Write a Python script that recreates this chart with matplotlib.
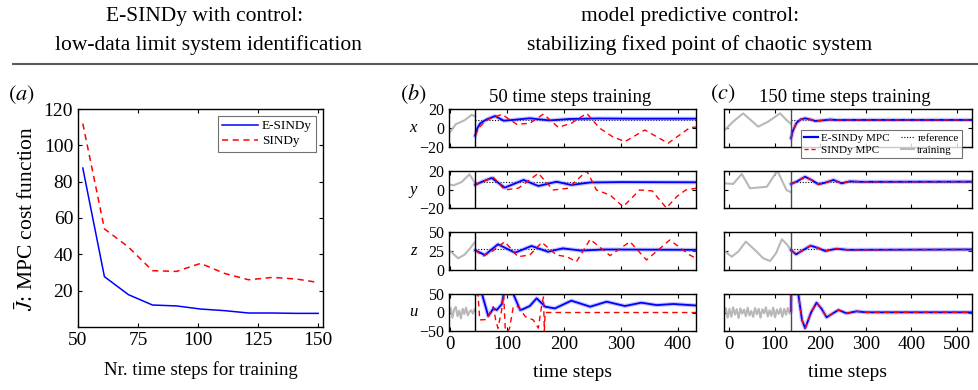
import numpy as np
import matplotlib
matplotlib.use("Agg")
import matplotlib.pyplot as plt
from matplotlib.lines import Line2D

plt.rcParams['font.family'] = ['Liberation Serif', 'DejaVu Serif']
plt.rcParams['mathtext.fontset'] = 'stix'

# ---- panel (a): cost vs training length
n_train = [52, 61, 71, 81, 91, 101, 111, 121, 131, 141, 150]
cost_esindy = [87.5, 27.7, 17.8, 12.1, 11.6, 9.9, 9.0, 7.7, 7.7, 7.5, 7.5]
cost_sindy = [112, 54, 44, 31, 30.6, 35, 29.5, 26, 27.3, 26.4, 24.5]

# ---- panel (b): 50 time steps training
tb_train_x = [-2, 10, 25, 38, 44]
xb_train = [-6, 4, 8, 14, 12]
tb_train_y = [-2, 6, 20, 34, 44]
yb_train = [5.5, 4.5, 8, 16.4, 6.7]
tb_train_z = [-2, 14, 25, 35, 44]
zb_train = [26.3, 15.4, 20, 28.5, 37.2]
tb_train_u = [-2, 1, 4, 7, 10, 13, 16, 19, 22, 25, 28, 31, 34, 37, 40, 43, 44]
ub_train = [0, 12, -14, 8, 15, -10, 5, -16, 10, -4, 13, -8, 2, 6, -3, 9, 5]

tb_es_x = [44, 48, 53, 64, 79, 94, 110, 140, 175, 210, 260, 320, 432]
xb_es = [-8, 0, 5, 9, 12.6, 7.7, 8.5, 10.2, 8, 9.5, 10, 9.8, 9.8]
tb_s_x = [44, 50, 60, 70, 91, 117, 140, 164, 190, 213, 240, 263, 285, 307, 342,
          383, 421, 432]
xb_s = [-8, 0, 6, 10, 14.4, 3.9, 5, 14.7, 0.7, 5, 15.4, -0.3, -9, -14.4, -2.1,
        -16, 0.3, 1]

tb_es_y = [44, 56, 73, 96, 129, 155, 187, 213, 246, 300, 432]
yb_es = [5, 8.4, 12.5, 2, 10.3, 3.8, 8.4, 4.9, 7.6, 8, 7.8]
tb_s_y = [44, 59, 76, 96, 120, 155, 181, 207, 240, 246, 257, 281, 304, 333, 355,
          380, 398, 414, 432]
yb_s = [5, 9, 13.2, -0.5, 1.5, 17.5, -0.5, 1.3, 20, 13, -0.5, -6, -18.6, -0.5,
        -1.5, -20, -7.8, -0.5, 1.3]

tb_es_z = [44, 61, 84, 114, 143, 172, 198, 230, 270, 432]
zb_es = [26, 19.7, 33.8, 22.8, 31.6, 24, 28.5, 25.5, 27, 26.5]
tb_s_z = [44, 58, 75, 96, 119, 140, 161, 187, 205, 222, 246, 281, 316, 345, 386,
          421, 432]
zb_s = [26, 18.4, 25, 37.3, 17.5, 19.7, 36.4, 19.7, 17.5, 10.9, 40.4, 18.9, 37.3,
        13.2, 39.5, 19.7, 15.4]

tb_es_u = [44, 56, 67, 76, 82, 91, 94, 111, 123, 128, 140, 152, 167, 184, 213,
           246, 275, 307, 336, 363, 392, 432]
ub_es = [50, 50, -10, 11, 6.8, 23, 50, 50, 6.8, 9, 17.6, 38.4, 15.7, 11, 32,
         15.7, 29.2, 17.6, 26.5, 20, 23, 19]
tb_s_u = [44, 49, 52, 64, 72, 76, 80, 84, 91, 94, 97, 100, 104, 111, 120, 132,
          146, 155, 161, 164, 165.5, 167, 432]
ub_s = [50, 50, -20, -19, 5, 15.7, -20, -42.7, 10, 50, -50, -50, -45, 15.7, 15.7,
        -11, -20, -42, 21, 42, -50, 0, 0]

# ---- panel (c): 150 time steps training
tc_train_x = [-11, 9, 31, 64, 86, 112, 126, 136]
xc_train = [-3, 6.7, 15.4, 1.4, 6.7, 15.4, 8.4, 4.2]
tc_train_y = [-11, 9, 28, 46, 83, 106, 126, 136]
yc_train = [6.7, 6, 16.8, 1.3, 3, 20.3, -0.5, -3]
tc_train_z = [-11, 6, 20, 37, 61, 75, 90, 103, 116, 128, 136]
zc_train = [25.4, 17.5, 24, 37.3, 24, 15.4, 11.8, 22, 40.4, 33, 25.4]
tc_train_u = [-11, -7, -3, 1, 5, 9, 13, 17, 21, 25, 29, 33, 37, 41, 45, 49, 53,
              57, 61, 65, 69, 73, 77, 81, 85, 89, 93, 97, 101, 105, 109, 113,
              117, 121, 125, 129, 133, 136]
uc_train = [-4, 12, -14, 10, -12, 14, -6, 9, -15, 11, -3, 8, -10, 13, -8, 4,
            -12, 12, -5, 10, -14, 9, -2, 14, -11, 6, -9, 13, -13, 8, -4, 11,
            -12, 10, -6, 12, -3, 5]

tc_mpc_x = [136, 140, 148, 157, 167, 178, 189, 205, 221, 240, 260, 533]
xc_mpc = [-10.8, -3, 5.3, 9, 10.2, 9, 7.4, 8, 8.9, 8.3, 8.5, 8.5]
tc_mpc_y = [136, 150, 167, 182, 196, 212, 229, 247, 265, 290, 533]
yc_mpc = [5.9, 9, 13.8, 10, 5.6, 7.5, 10.3, 6.7, 8.8, 8.3, 8.5]
tc_mpc_z = [136, 147, 162, 179, 195, 211, 236, 260, 533]
zc_mpc = [26.3, 20.6, 26, 32, 29, 25, 28, 26.5, 27]
tc_mpc_u = [136, 136.5, 152, 160, 167, 180, 192, 203, 214, 227, 240, 258, 280,
            300, 533]
uc_mpc = [5, 50, 50, -20, -42.7, 0, 26.5, 10, -13, -3, 6.8, -2.2, 3.2, 0.5, 0.5]

ref_vals = [8.49, 8.49, 27]
row_names = ['x', 'y', 'z', 'u']
row_ylims = [(-20, 20), (-20, 20), (0, 50), (-50, 50)]
row_yticks = [[-20, 0, 20], [-20, 0, 20], [0, 25, 50], [-50, 0, 50]]
t_end_b, t_end_c = 44, 136

W, H = 979, 390
fig = plt.figure(figsize=(W / 100, H / 100), dpi=100)


def px_axes(l, t, r, b):
    return fig.add_axes([l / W, 1 - b / H, (r - l) / W, (b - t) / H])


def style(ax, size):
    ax.tick_params(direction='in', top=True, right=True, labelsize=size,
                   length=3, width=0.8)
    for s in ax.spines.values():
        s.set_linewidth(1.0)


# headers
fig.text(205 / W, 1 - 16 / H, 'E-SINDy with control:', ha='center', va='center', fontsize=15.5)
fig.text(208 / W, 1 - 45 / H, 'low-data limit system identification', ha='center', va='center', fontsize=15.5)
fig.text(690 / W, 1 - 16 / H, 'model predictive control:', ha='center', va='center', fontsize=15.5)
fig.text(700 / W, 1 - 45 / H, 'stabilizing fixed point of chaotic system', ha='center', va='center', fontsize=15.5)
fig.add_artist(Line2D([13 / W, 1], [1 - 64 / H, 1 - 64 / H], color='0.35', lw=1.5))

# panel (a)
ax = px_axes(78, 109, 323, 327)
ax.plot(n_train, cost_esindy, color='b', lw=1.1, label='E-SINDy')
ax.plot(n_train, cost_sindy, color='r', lw=1.1, ls=(0, (4, 3)), label='SINDy')
ax.set_xlim(50, 152)
ax.set_ylim(0, 120)
ax.set_xticks([50, 75, 100, 125, 150])
ax.set_yticks([20, 40, 60, 80, 100, 120])
style(ax, 14)
ax.set_xlabel('Nr. time steps for training', fontsize=13.5, labelpad=9)
ax.set_ylabel(r'$\bar{J}$: MPC cost function', fontsize=15.5, labelpad=4)
leg = ax.legend(loc='upper right', fontsize=9.5, frameon=True, fancybox=False,
                edgecolor='0.3', borderaxespad=0.5, handlelength=2.7,
                handletextpad=0.3, labelspacing=0.2, borderpad=0.35)
leg.get_frame().set_linewidth(0.8)
fig.text(8 / W, 1 - 95 / H, '$(a)$', fontsize=16, va='center')

# panels (b) and (c)
rows_px = [(109, 147), (171, 208), (232, 270), (294, 331)]
train_b = [(tb_train_x, xb_train), (tb_train_y, yb_train), (tb_train_z, zb_train), (tb_train_u, ub_train)]
es_b = [(tb_es_x, xb_es), (tb_es_y, yb_es), (tb_es_z, zb_es), (tb_es_u, ub_es)]
s_b = [(tb_s_x, xb_s), (tb_s_y, yb_s), (tb_s_z, zb_s), (tb_s_u, ub_s)]
train_c = [(tc_train_x, xc_train), (tc_train_y, yc_train), (tc_train_z, zc_train), (tc_train_u, uc_train)]
mpc_c = [(tc_mpc_x, xc_mpc), (tc_mpc_y, yc_mpc), (tc_mpc_z, zc_mpc), (tc_mpc_u, uc_mpc)]

for i, (top, bot) in enumerate(rows_px):
    for panel in ['b', 'c']:
        if panel == 'b':
            ax = px_axes(449, top, 696, bot)
            xlim, t_end, vcol = (-2, 432), t_end_b, 'k'
            tr, es, sd = train_b[i], es_b[i], s_b[i]
        else:
            ax = px_axes(724, top, 972, bot)
            xlim, t_end, vcol = (-11, 533), t_end_c, '0.3'
            tr, es, sd = train_c[i], mpc_c[i], mpc_c[i]
        ax.plot(tr[0], tr[1], color='0.72', lw=1.5)
        if i < 3:
            ax.plot([t_end, xlim[1]], [ref_vals[i]] * 2, color='k', lw=0.8, ls=(0, (1, 1.5)))
        ax.plot(es[0], es[1], color='#8c8cff', lw=3.0, alpha=0.5)
        ax.plot(es[0], es[1], color='b', lw=1.3)
        ax.plot(sd[0], sd[1], color='r', lw=1.0, ls=(0, (4, 3)))
        ax.axvline(t_end, color=vcol, lw=1.0)
        ax.set_xlim(*xlim)
        ax.set_ylim(*row_ylims[i])
        ax.set_yticks(row_yticks[i])
        style(ax, 11.5)
        if panel == 'b':
            ax.set_xticks([0, 100, 200, 300, 400])
            ax.set_ylabel(row_names[i], fontsize=12, style='italic', rotation=0,
                          va='center', ha='center')
            ax.yaxis.set_label_coords((413 - 449) / 247, 0.5)
        else:
            ax.set_xticks([0, 100, 200, 300, 400, 500])
            ax.set_yticklabels([])
        if i < 3:
            ax.set_xticklabels([])
        else:
            ax.tick_params(axis='x', labelsize=13.5)
            ax.set_xlabel('time steps', fontsize=14, labelpad=8)
        if panel == 'c' and i == 0:
            handles = [Line2D([], [], color='b', lw=1.6),
                       Line2D([], [], color='r', lw=1.0, ls=(0, (3, 2))),
                       Line2D([], [], color='k', lw=0.8, ls=(0, (1, 1.5))),
                       Line2D([], [], color='0.72', lw=1.5)]
            labels = ['E-SINDy MPC', 'SINDy MPC', 'reference', 'training']
            leg = ax.legend(handles, labels, ncol=2, fontsize=8, frameon=True,
                            fancybox=False, edgecolor='0.3', handlelength=1.2,
                            handletextpad=0.3, columnspacing=1.0, labelspacing=0.15,
                            borderpad=0.3, borderaxespad=0, loc='upper right',
                            bbox_to_anchor=((962 - 724) / 248, 1 - (130 - 109) / 38))
            leg.get_frame().set_linewidth(0.8)
            leg.set_zorder(10)

fig.text(400 / W, 1 - 94 / H, '$(b)$', fontsize=16, va='center')
fig.text(570 / W, 1 - 97 / H, '50 time steps training', fontsize=13.5, ha='center', va='center')
fig.text(710 / W, 1 - 94 / H, '$(c)$', fontsize=16, va='center')
fig.text(845 / W, 1 - 97 / H, '150 time steps training', fontsize=13.5, ha='center', va='center')

fig.savefig('out.png', dpi=100)
